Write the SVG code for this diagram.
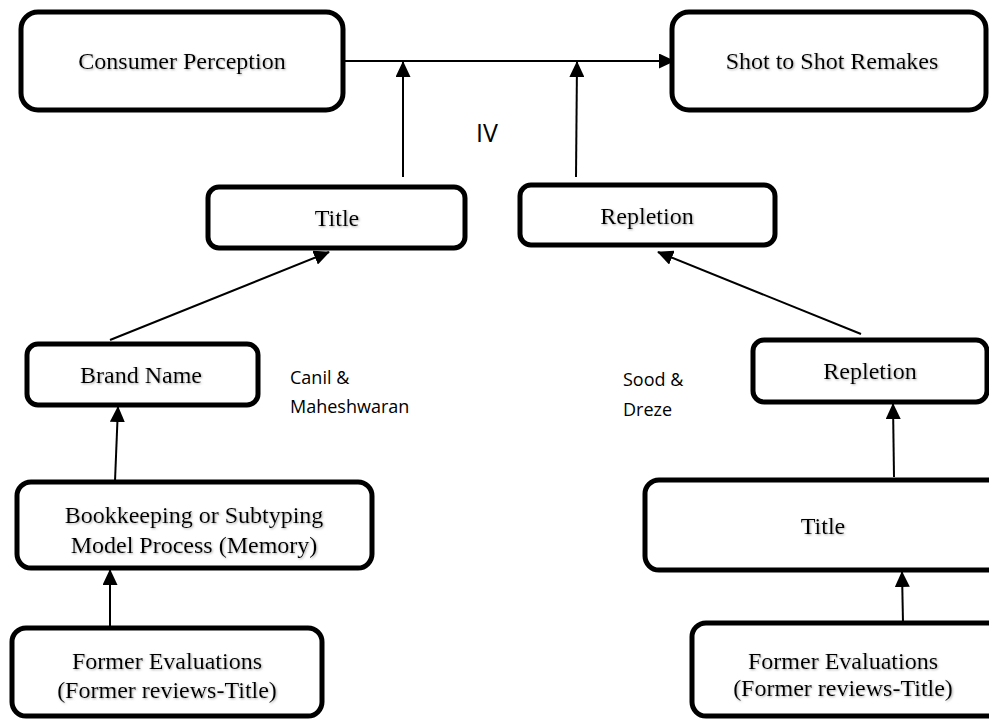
<svg xmlns="http://www.w3.org/2000/svg" width="989" height="720" viewBox="0 0 989 720">
  <style>
    .box { fill: #ffffff; stroke: #000000; stroke-width: 5; }
    .lbl { font-family: "Liberation Serif", "Times New Roman", serif; font-size: 24px; fill: #000000; text-anchor: middle; filter: url(#soft); }
    .note { font-family: "Open Sans", "Liberation Sans", sans-serif; font-size: 18px; fill: #000000; }
    .link { fill: none; stroke: #000000; stroke-width: 2; marker-end: url(#arrow); }
  </style>
  <defs>
    <marker id="arrow" markerUnits="userSpaceOnUse" markerWidth="16" markerHeight="15" refX="15" refY="7.5" orient="auto">
      <path d="M0,0 L16,7.5 L0,15 Z" fill="#000000"/>
    </marker>
    <filter id="soft" x="-10%" y="-30%" width="120%" height="160%">
      <feDropShadow dx="1" dy="1" stdDeviation="0.8" flood-color="#777777" flood-opacity="0.6"/>
    </filter>
  </defs>
  <rect width="989" height="720" fill="#ffffff"/>

  <!-- connectors -->
  <g id="connectors">
    <path class="link" d="M345,61 L674,61"/>
    <path class="link" d="M403,177 L403,62"/>
    <path class="link" d="M576,177 L577,62"/>
    <path class="link" d="M110,340 L329,252"/>
    <path class="link" d="M861,334 L658,252"/>
    <path class="link" d="M115,481 L118,407"/>
    <path class="link" d="M110,627 L110,570"/>
    <path class="link" d="M894,477 L893,404"/>
    <path class="link" d="M903,623 L902,572"/>
  </g>

  <g id="consumer-perception">
    <rect class="box" x="21" y="12" width="322" height="98" rx="17"/>
    <text class="lbl" x="182" y="69">Consumer Perception</text>
  </g>

  <g id="shot-to-shot">
    <rect class="box" x="672" y="12" width="314" height="98" rx="17"/>
    <text class="lbl" x="832" y="69">Shot to Shot Remakes</text>
  </g>

  <g id="iv-label">
    <text x="476" y="142" style="font-family: 'Open Sans', 'Liberation Sans', sans-serif; font-size: 25px;">IV</text>
  </g>

  <g id="title-left">
    <rect class="box" x="208" y="187" width="257" height="61" rx="11"/>
    <text class="lbl" x="337" y="226">Title</text>
  </g>

  <g id="repletion-mid">
    <rect class="box" x="520" y="185" width="255" height="60" rx="11"/>
    <text class="lbl" x="647" y="224">Repletion</text>
  </g>

  <g id="brand-name">
    <rect class="box" x="27" y="344" width="231" height="61" rx="11"/>
    <text class="lbl" x="141" y="383">Brand Name</text>
  </g>

  <g id="canil-note">
    <text class="note" x="290" y="384">Canil &amp;</text>
    <text class="note" x="290" y="413">Maheshwaran</text>
  </g>

  <g id="sood-note">
    <text class="note" x="623" y="386">Sood &amp;</text>
    <text class="note" x="623" y="416">Dreze</text>
  </g>

  <g id="repletion-right">
    <rect class="box" x="753" y="340" width="234" height="62" rx="11"/>
    <text class="lbl" x="870" y="379">Repletion</text>
  </g>

  <g id="bookkeeping">
    <rect class="box" x="17" y="482" width="355" height="86" rx="14"/>
    <text class="lbl" x="194" y="523">Bookkeeping or Subtyping</text>
    <text class="lbl" x="194" y="553">Model Process (Memory)</text>
  </g>

  <g id="title-right">
    <rect class="box" x="645" y="480" width="360" height="90" rx="14"/>
    <text class="lbl" x="823" y="534">Title</text>
  </g>

  <g id="former-left">
    <rect class="box" x="12" y="628" width="310" height="88" rx="14"/>
    <text class="lbl" x="167" y="669">Former Evaluations</text>
    <text class="lbl" x="167" y="698">(Former reviews-Title)</text>
  </g>

  <g id="former-right">
    <rect class="box" x="692" y="623" width="315" height="93" rx="14"/>
    <text class="lbl" x="843" y="669">Former Evaluations</text>
    <text class="lbl" x="843" y="696">(Former reviews-Title)</text>
  </g>
</svg>
